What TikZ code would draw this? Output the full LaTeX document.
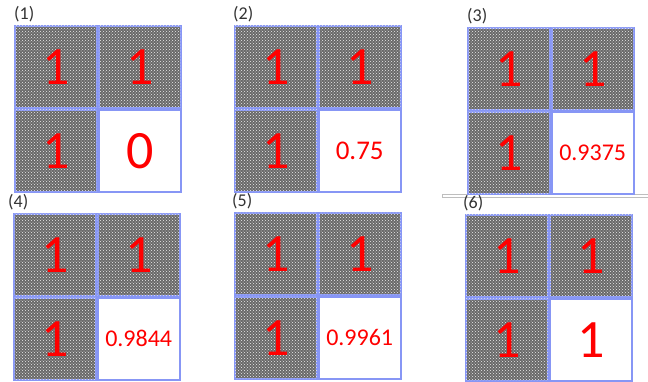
\documentclass[tikz,border=0pt]{standalone}
\usepackage{fontspec}
\setmainfont{Carlito}
\usetikzlibrary{positioning,patterns}

\definecolor{gridblue}{RGB}{135,150,245}
\definecolor{cellgray}{RGB}{105,105,105}
\definecolor{rulegray}{RGB}{190,190,190}

\tikzset{
  cell/.style={draw=gridblue, line width=1.8pt, minimum width=82pt, minimum height=82pt, inner sep=0pt, text=red},
  dark/.style={cell, fill=cellgray, postaction={pattern=crosshatch dots, pattern color=white!85!gray}},
  light/.style={cell, fill=white},
  tag/.style={inner sep=0pt, text=black!80, font=\fontsize{18}{18}\selectfont}
}

\begin{document}
\begin{tikzpicture}[x=1pt, y=-1pt]
\useasboundingbox (0,0) rectangle (648,381);

% thin rule between (3) and (6)
\draw[rulegray, line width=0.8pt] (442,194) rectangle (650,197);

\foreach \n/\x/\y/\lx/\v/\s in {1/14/25/14/0/54, 2/234/25/233/0.75/27, 3/467/27/467/0.9375/24,
                                4/13/213/8/0.9844/24, 5/234/212/232/0.9961/24, 6/465/214/463/1/54}{
  \node[dark, anchor=north west, font=\fontsize{54}{54}\selectfont] (g\n a) at (\x,\y) {1};
  \node[dark, right=0pt of g\n a, font=\fontsize{54}{54}\selectfont] (g\n b) {1};
  \node[dark, below=0pt of g\n a, font=\fontsize{54}{54}\selectfont] (g\n c) {1};
  \node[light, right=0pt of g\n c, font=\fontsize{\s}{\s}\selectfont] (g\n d) {\v};
  \node[tag, anchor=south west] (t\n) at (\lx,\y-3) {(\n)};
}
\end{tikzpicture}
\end{document}
